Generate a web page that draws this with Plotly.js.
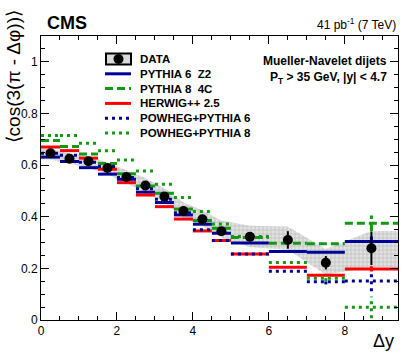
<!DOCTYPE html>
<html>
<head>
<meta charset="utf-8">
<script src="https://cdn.plot.ly/plotly-3.0.1.min.js"></script>
<style>
  body { margin: 0; background: #fff; }
  #plot { width: 407px; height: 356px; }
</style>
</head>
<body>
<div id="plot"></div>
<script>
// bins in delta y
const binEdges = [0, 0.5, 1, 1.5, 2, 2.5, 3, 3.5, 4, 4.5, 5, 6, 7, 8, 9.4];

// measured values
const dataVal = [0.646, 0.625, 0.615, 0.589, 0.554, 0.521, 0.478, 0.422, 0.390, 0.344, 0.322, 0.310, 0.222, 0.278];
const dataErr = [0.005, 0.005, 0.005, 0.006, 0.006, 0.007, 0.008, 0.008, 0.009, 0.010, 0.010, 0.034, 0.026, 0.065];
const sysUp   = [0.662, 0.645, 0.635, 0.610, 0.580, 0.550, 0.510, 0.455, 0.425, 0.385, 0.365, 0.362, 0.275, 0.345];
const sysLo   = [0.622, 0.605, 0.590, 0.565, 0.530, 0.495, 0.455, 0.395, 0.365, 0.320, 0.282, 0.272, 0.175, 0.205];

// generators
const pythia6    = [0.631, 0.614, 0.590, 0.565, 0.545, 0.495, 0.455, 0.407, 0.371, 0.336, 0.298, 0.265, 0.262, 0.304];
const pythia6Err = [0, 0, 0, 0, 0, 0, 0, 0, 0, 0, 0, 0, 0, 0.020];
const pythia8    = [0.695, 0.672, 0.643, 0.606, 0.566, 0.519, 0.491, 0.430, 0.385, 0.355, 0.320, 0.297, 0.295, 0.375];
const pythia8Err = [0, 0, 0, 0, 0, 0, 0, 0, 0, 0, 0, 0, 0, 0.030];
const herwig     = [0.670, 0.656, 0.627, 0.584, 0.532, 0.484, 0.439, 0.391, 0.345, 0.308, 0.256, 0.204, 0.173, 0.198];
const herwigErr  = [0, 0, 0, 0, 0, 0, 0, 0, 0, 0, 0, 0, 0, 0.010];
const powheg6    = [0.646, 0.638, 0.611, 0.595, 0.552, 0.508, 0.468, 0.415, 0.350, 0.308, 0.256, 0.189, 0.148, 0.151];
const powheg6Err = [0, 0, 0, 0, 0, 0, 0, 0, 0, 0, 0, 0, 0.010, 0.040];
const powheg8    = [0.715, 0.715, 0.685, 0.656, 0.620, 0.577, 0.526, 0.474, 0.420, 0.372, 0.323, 0.223, 0.162, 0.049];
const powheg8Err = [0, 0, 0, 0, 0, 0, 0, 0, 0, 0, 0, 0, 0.012, 0.042];

const navy = '#000099';
const green = '#119911';
const red = '#ff0000';
const dashed = '8px,4px';
const dotted = '3px,4px';
const font = '"Liberation Sans", Arial, Helvetica, sans-serif';

let centers = [];
for (let i = 0; i < binEdges.length - 1; i++)
    centers.push((binEdges[i] + binEdges[i + 1]) / 2);

// horizontal segment per bin, plus a vertical stat error at the centre
function steps(vals, errs) {
    let xs = [], ys = [];
    for (let i = 0; i < vals.length; i++) {
        xs.push(binEdges[i], binEdges[i + 1], null);
        ys.push(vals[i], vals[i], null);
        if (errs[i] > 0) {
            xs.push(centers[i], centers[i], null);
            ys.push(vals[i] - errs[i], vals[i] + errs[i], null);
        }
    }
    return { xs: xs, ys: ys };
}

function mcTrace(vals, errs, color, dash) {
    let s = steps(vals, errs);
    return {
        x: s.xs, y: s.ys,
        type: 'scatter', mode: 'lines',
        line: { color: color, width: 3, dash: dash },
        showlegend: false, hoverinfo: 'skip'
    };
}

// systematic band, stretched flat to the axis ends
let bandX = [binEdges[0]].concat(centers, [binEdges[binEdges.length - 1]]);
let bandUp = [sysUp[0]].concat(sysUp, [sysUp[sysUp.length - 1]]);
let bandLo = [sysLo[0]].concat(sysLo, [sysLo[sysLo.length - 1]]);

var data = [
    { x: bandX, y: bandLo, type: 'scatter', mode: 'lines', line: { width: 0 }, showlegend: false, hoverinfo: 'skip' },
    { x: bandX, y: bandUp, type: 'scatter', mode: 'lines', line: { width: 0 }, fill: 'tonexty',
      fillcolor: '#dadada',
      fillpattern: { shape: '+', bgcolor: '#e2e2e2', fgcolor: '#c4c4c4', size: 4, solidity: 0.4 },
      showlegend: false, hoverinfo: 'skip' },
    mcTrace(pythia6, pythia6Err, navy, 'solid'),
    mcTrace(pythia8, pythia8Err, green, dashed),
    mcTrace(herwig, herwigErr, red, 'solid'),
    mcTrace(powheg6, powheg6Err, navy, dotted),
    mcTrace(powheg8, powheg8Err, green, dotted),
    {
        x: centers, y: dataVal, type: 'scatter', mode: 'markers',
        marker: { color: 'black', size: 10 },
        error_y: { type: 'data', array: dataErr, color: 'black', thickness: 2, width: 0 },
        showlegend: false, hoverinfo: 'skip'
    }
];

// hand-made legend (ROOT-style, tighter than plotly's own)
const legendNames = ['DATA', 'PYTHIA 6\u00a0\u00a0Z2', 'PYTHIA 8\u00a0\u00a04C', 'HERWIG++ 2.5', 'POWHEG+PYTHIA 6', 'POWHEG+PYTHIA 8'];
const legendColors = ['black', navy, green, red, navy, green];
const legendDash = [null, 'solid', dashed, 'solid', dotted, dotted];

const W = 357, H = 284, L = 41, T = 36;
function px(x) { return (x - L) / W; }
function py(y) { return (T + H - y) / H; }

let shapes = [], annotations = [];
for (let i = 0; i < legendNames.length; i++) {
    let yc = 59 + i * 14.8;
    if (i === 0) {
        shapes.push({ type: 'rect', xref: 'paper', yref: 'paper', x0: px(106), x1: px(131), y0: py(yc - 5.5), y1: py(yc + 5.5),
                      fillcolor: '#dadada', line: { color: 'black', width: 2 } });
        shapes.push({ type: 'circle', xref: 'paper', yref: 'paper', x0: px(113.5), x1: px(123.5), y0: py(yc - 5), y1: py(yc + 5),
                      fillcolor: 'black', line: { color: 'black', width: 0 } });
    } else {
        shapes.push({ type: 'line', xref: 'paper', yref: 'paper', x0: px(105), x1: px(131), y0: py(yc), y1: py(yc),
                      line: { color: legendColors[i], width: 3, dash: legendDash[i] } });
    }
    annotations.push({ text: '<b>' + legendNames[i] + '</b>', xref: 'paper', yref: 'paper', x: px(138), y: py(yc),
                       xanchor: 'left', yanchor: 'middle', showarrow: false, font: { size: 11.5 } });
}

annotations.push(
    { text: '<b>CMS</b>', xref: 'paper', yref: 'paper', x: 0.012, y: 1.046,
      xanchor: 'left', yanchor: 'middle', showarrow: false, font: { size: 18 } },
    { text: '41 pb<sup>-1</sup> (7 TeV)', xref: 'paper', yref: 'paper', x: 1, y: 1.042,
      xanchor: 'right', yanchor: 'middle', showarrow: false, font: { size: 12 } },
    { text: '<b>Mueller-Navelet dijets</b>', xref: 'paper', yref: 'paper', x: 0.975, y: 0.912,
      xanchor: 'right', yanchor: 'middle', showarrow: false, font: { size: 12 } },
    { text: '<b>P<sub>T</sub> &gt; 35 GeV, |y| &lt; 4.7</b>', xref: 'paper', yref: 'paper', x: 0.975, y: 0.852,
      xanchor: 'right', yanchor: 'middle', showarrow: false, font: { size: 12 } },
    { text: '\u27e8cos(3(\u03c0 - \u0394\u03c6))\u27e9', xref: 'paper', yref: 'paper', x: -0.077, y: 0.856,
      xanchor: 'center', yanchor: 'middle', textangle: -90, showarrow: false, font: { size: 19 } },
    { text: '\u0394y', xref: 'paper', yref: 'paper', x: 0.958, y: -0.074,
      xanchor: 'center', yanchor: 'middle', showarrow: false, font: { size: 18 } }
);

var axisCommon = {
    showgrid: false, zeroline: false,
    showline: true, linecolor: 'black', linewidth: 1, mirror: 'ticks',
    ticks: 'inside', ticklen: 8, tickcolor: 'black',
    tickfont: { family: font, size: 12, color: 'black' }
};

var layout = {
    width: 407, height: 356,
    margin: { l: L, r: 407 - L - W, t: T, b: 356 - T - H },
    paper_bgcolor: 'white', plot_bgcolor: 'white',
    font: { family: font, color: 'black' },
    showlegend: false,
    xaxis: Object.assign({}, axisCommon, {
        range: [0, 9.4], dtick: 2, tick0: 0,
        minor: { dtick: 0.5, ticks: 'inside', ticklen: 4, tickcolor: 'black' }
    }),
    yaxis: Object.assign({}, axisCommon, {
        range: [0, 1.1], dtick: 0.2, tick0: 0,
        minor: { dtick: 0.05, ticks: 'inside', ticklen: 4, tickcolor: 'black' }
    }),
    shapes: shapes,
    annotations: annotations
};

Plotly.newPlot('plot', data, layout, { displayModeBar: false, staticPlot: true });
</script>
</body>
</html>
